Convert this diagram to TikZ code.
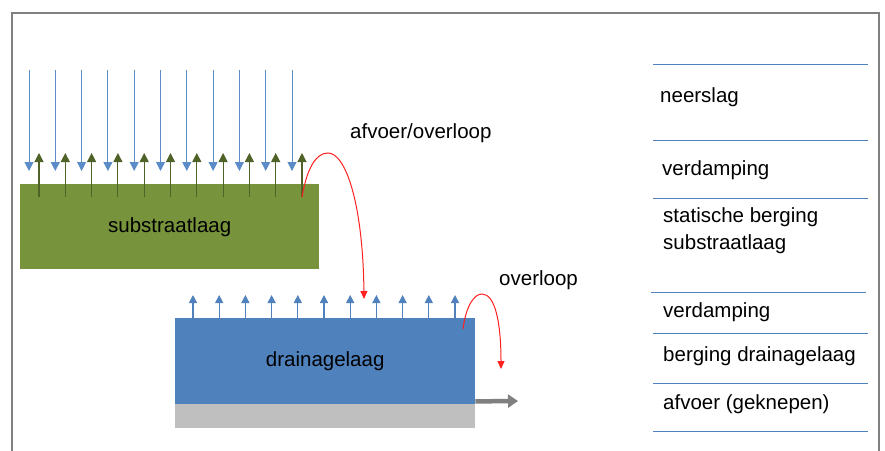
\documentclass[tikz,border=0pt]{standalone}
\usepackage{fontspec}
\setmainfont{Liberation Sans}
\usetikzlibrary{arrows.meta}
\definecolor{frameg}{HTML}{808080}
\definecolor{grass}{HTML}{77933C}
\definecolor{olive}{HTML}{4F6228}
\definecolor{water}{HTML}{4F81BD}
\definecolor{rain}{HTML}{5B8CC8}
\definecolor{base}{HTML}{BFBFBF}
\definecolor{flow}{HTML}{FF2020}
\tikzset{
  lbl/.style={font=\fontsize{20.5}{27}\selectfont, inner sep=0pt, anchor=base west, align=left},
  layer/.style={draw=none, inner sep=0pt, font=\fontsize{20.5}{24}\selectfont},
  rainarr/.style={rain, line width=1pt, -{Triangle[width=9pt,length=9pt]}},
  evapg/.style={olive, line width=1.1pt, -{Triangle[width=9pt,length=9pt]}},
  evapb/.style={water, line width=1.3pt, -{Triangle[width=8pt,length=8pt]}},
  flowarr/.style={flow, line width=1pt, -{Triangle[width=7pt,length=8pt]}},
  sep/.style={water, line width=0.9pt},
}
\begin{document}
\begin{tikzpicture}[x=1pt,y=-1pt]
\useasboundingbox (0,0) rectangle (885,450);
% outer frame
\draw[frameg, line width=2pt] (12,460) -- (12,13) -- (879,13) -- (879,460);
% layers
\node[layer, fill=grass, minimum width=299pt, minimum height=85pt, anchor=north west] (sub) at (20,184) {substraatlaag};
\node[layer, fill=base, minimum width=300pt, minimum height=24pt, anchor=north west] (grey) at (175,404) {};
\node[layer, fill=water, minimum width=300pt, minimum height=86pt, anchor=north west] (drain) at (175,318) {drainagelaag};
% rain arrows
\foreach \i in {0,...,10} {
  \draw[rainarr] ({29+26.3*\i},70) -- ({29+26.3*\i},171);
  \draw[evapg] ({39+26.3*\i},197) -- ({39+26.3*\i},153);
  \draw[evapb] ({193+26.2*\i},318) -- ({193+26.2*\i},295);
}
% overflow curves
\coordinate (s1) at (302,197);
\coordinate (p1) at (328,153);
\coordinate (e1) at (364,299);
\draw[flowarr] (s1) .. controls (307,168) and (316,153) .. (p1) .. controls (346,153) and (363,205) .. (e1);
\coordinate (s2) at (463,329);
\coordinate (p2) at (482,294);
\coordinate (e2) at (501,369);
\draw[flowarr] (s2) .. controls (466,306) and (474,294) .. (p2) .. controls (495,294) and (501,322) .. (e2);
% outflow
\coordinate (o1) at (518,401);
\draw[frameg, line width=4.5pt, -{Triangle[width=13pt,length=10pt]}] (drain.south east) ++(0,-3) -- (o1);
% labels
\node[lbl] (t1) at (350,138) {afvoer/overloop};
\node[lbl] (t2) at (499,285) {overloop};
% legend lines
\foreach \y in {64,140,198,333,383,431} { \draw[sep] (653,\y) -- (868,\y); }
\draw[sep] (651,292) -- (866,292);
\node[lbl] (l1) at (660,102) {neerslag};
\node[lbl] (l2) at (662,175) {verdamping};
\node[lbl] (l3) at (663,249) {statische berging\\substraatlaag};
\node[lbl] (l4) at (663,317) {verdamping};
\node[lbl] (l5) at (663,361) {berging drainagelaag};
\node[lbl] (l6) at (663,409) {afvoer (geknepen)};
\end{tikzpicture}
\end{document}
